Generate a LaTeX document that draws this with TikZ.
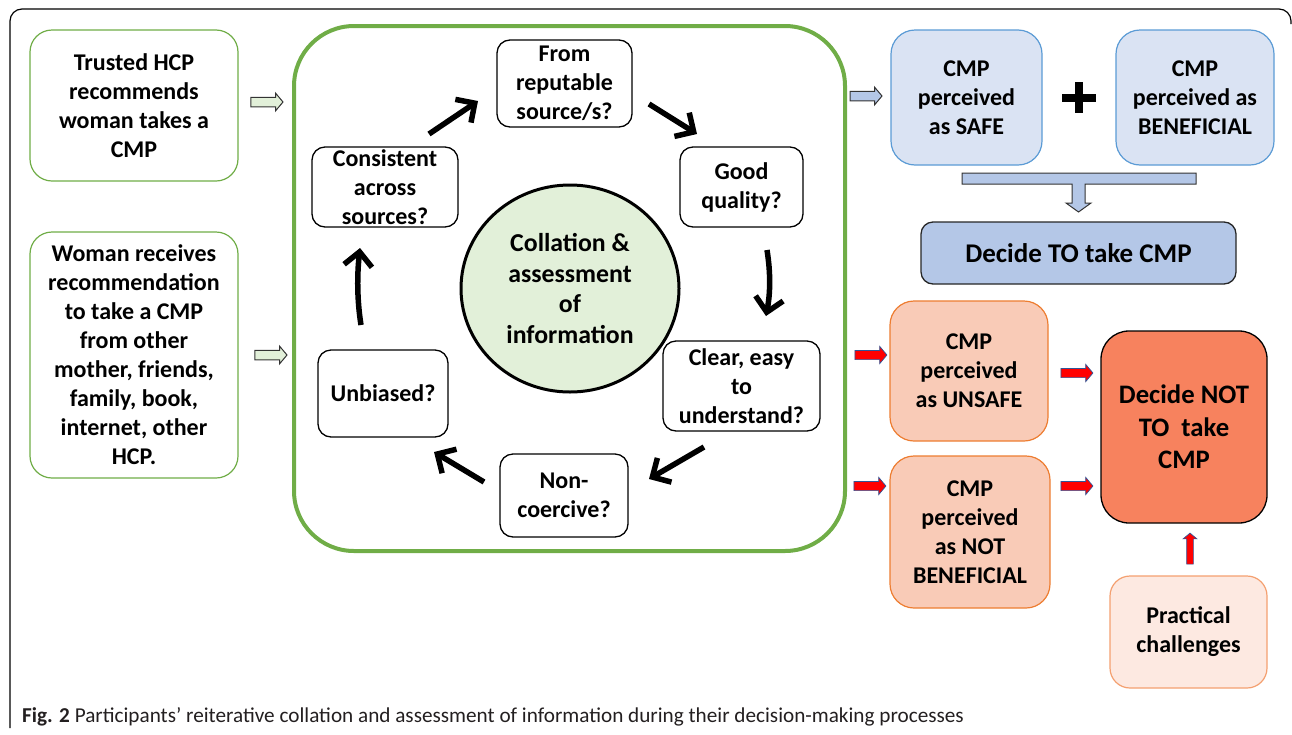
\documentclass[tikz,border=0pt]{standalone}
\usepackage{fontspec}
\setmainfont{Carlito}
\usetikzlibrary{arrows.meta,shapes.arrows,shapes.geometric}
\definecolor{cgreen}{HTML}{70AD47}
\definecolor{lgreen}{HTML}{E2F0D9}
\definecolor{lblue}{HTML}{DAE3F3}
\definecolor{bblue}{HTML}{5B9BD5}
\definecolor{mblue}{HTML}{B4C7E7}
\definecolor{lorange}{HTML}{F9CBB7}
\definecolor{borange}{HTML}{ED7D31}
\definecolor{dorange}{HTML}{F7825E}
\definecolor{porange}{HTML}{FDE9E1}
\definecolor{pborder}{HTML}{F4A070}
\definecolor{arrblue}{HTML}{2F5597}
\definecolor{capgray}{HTML}{231F20}
\newcommand\myfs[2]{\fontsize{#1}{#2}\selectfont}
\tikzset{
  base/.style={align=center, inner sep=0pt, font=\bfseries\myfs{24}{29}},
  greenbox/.style={base, rounded corners=22pt, draw=cgreen, line width=1.2pt, fill=white},
  qbox/.style={base, rounded corners=13pt, draw=black, line width=1.3pt, fill=white},
  bluebox/.style={base, rounded corners=24pt, draw=bblue, line width=1.2pt, fill=lblue},
  orbox/.style={base, rounded corners=24pt, draw=borange, line width=1.2pt, fill=lorange},
  blockarr/.style={single arrow, inner xsep=0pt, inner ysep=4.25pt, minimum height=32pt,
     single arrow head extend=4pt, single arrow tip angle=100, line width=1pt},
  grarr/.style={blockarr, draw=black!80, fill=lgreen},
  blarr/.style={blockarr, draw=black!80, fill=mblue},
  redarr/.style={blockarr, draw=arrblue, fill=red, line width=0.7pt},
  cyc/.style={line width=5.5pt, -{Straight Barb[length=14pt,width=28pt]}},
}
\begin{document}
\begin{tikzpicture}[x=1pt,y=-1pt]
\useasboundingbox (0,0) rectangle (1292,734);
% outer frame
\draw[line width=1.2pt, black, rounded corners=12pt] (10,728) -- (10,9) -- (1291,9) -- (1291,24);

% left boxes
\node[greenbox, minimum width=208pt, minimum height=151pt] (trusted) at (134,105.5)
  {Trusted HCP\\recommends\\woman takes a\\CMP};
\node[greenbox, minimum width=208pt, minimum height=246pt] (woman) at (134,355)
  {Woman receives\\recommendation\\to take a CMP\\from other\\mother, friends,\\family, book,\\internet, other\\HCP.};
\node[grarr] (g1) at (265,102) {};
\node[grarr] (g2) at (269,355) {};

% big green frame
\node[draw=cgreen, line width=4pt, rounded corners=60pt, minimum width=551pt, minimum height=525pt, inner sep=0pt] (frame) at (569.5,288.5) {};

% circle
\node[ellipse, draw=black, line width=3pt, fill=lgreen, minimum width=218pt, minimum height=207pt, align=center, inner sep=0pt, font=\bfseries\myfs{25.8}{30.5}] (centre) at (570,288.5)
  {Collation \&\\assessment\\of\\information};

% question boxes
\node[qbox, minimum width=135pt, minimum height=87pt] (from) at (564.5,83.5) {From\\reputable\\source/s?};
\node[qbox, minimum width=123pt, minimum height=80pt] (good) at (741.5,187) {Good\\quality?};
\node[qbox, minimum width=157pt, minimum height=90pt] (clear) at (741.5,386) {Clear, easy\\to\\understand?};
\node[qbox, minimum width=128pt, minimum height=83pt] (noncoer) at (564,495.5) {Non-\\coercive?};
\node[qbox, minimum width=130pt, minimum height=87pt] (unbiased) at (383,393.5) {Unbiased?};
\node[qbox, minimum width=146pt, minimum height=80pt] (consistent) at (385,187) {Consistent\\across\\sources?};

% cycle arrows
\coordinate (a1s) at (429,134); \coordinate (a1e) at (478,101);
\coordinate (a2s) at (649,104); \coordinate (a2e) at (697,134);
\coordinate (a3s) at (767,250); \coordinate (a3e) at (766,316);
\coordinate (a4s) at (704,447); \coordinate (a4e) at (649,479);
\coordinate (a5s) at (484,482); \coordinate (a5e) at (434,452);
\coordinate (a6s) at (361,325); \coordinate (a6e) at (360,248);
\draw[cyc] (a1s) -- (a1e);
\draw[cyc] (a2s) -- (a2e);
\draw[cyc] (a3s) .. controls (771,275) and (770,295) .. (a3e);
\draw[cyc] (a4s) -- (a4e);
\draw[cyc] (a5s) -- (a5e);
\draw[cyc] (a6s) .. controls (357,300) and (357,275) .. (a6e);

% right top
\node[blarr] (b1) at (864,96) {};
\node[bluebox, minimum width=151pt, minimum height=135pt] (safe) at (966.5,97.5) {CMP\\perceived\\as SAFE};
\node[bluebox, minimum width=158pt, minimum height=135pt] (benef) at (1195,97.5) {CMP\\perceived as\\BENEFICIAL};
\fill (1062,94) rectangle (1096,102);
\fill (1075,82) rectangle (1083,113);
\draw[draw=black!80, fill=mblue, line width=1pt]
  (962,173) -- (1196,173) -- (1196,184) -- (1085,184) -- (1085,203) -- (1091,203)
  -- (1078.5,212) -- (1066,203) -- (1072,203) -- (1072,184) -- (962,184) -- cycle;
\node[base, rounded corners=12pt, draw=black!85, line width=1.3pt, fill=mblue, minimum width=315pt, minimum height=62pt, font=\bfseries\myfs{27}{30}] (decideto) at (1078.5,253) {Decide TO take CMP};

% right bottom
\node[redarr] (r1) at (869,355) {};
\node[redarr] (r2) at (868,486) {};
\node[orbox, minimum width=158pt, minimum height=140pt] (unsafe) at (969,371) {CMP\\perceived\\as UNSAFE};
\node[orbox, minimum width=160pt, minimum height=152pt] (notben) at (970,532) {CMP\\perceived\\as NOT\\BENEFICIAL};
\node[redarr] (r3) at (1075,373) {};
\node[redarr] (r4) at (1075,486) {};
\node[base, rounded corners=28pt, draw=black, line width=1.3pt, fill=dorange, minimum width=166pt, minimum height=192pt, font=\bfseries\myfs{26.7}{32.5}] (decidenot) at (1184,427) {Decide NOT\\TO\ \ take\\CMP};
\node[redarr, rotate=90, minimum height=31pt, inner ysep=3pt, single arrow head extend=3.5pt] (r5) at (1190,550) {};
\node[base, rounded corners=20pt, draw=pborder, line width=1.2pt, fill=porange, minimum width=157pt, minimum height=112pt] (practical) at (1188.5,632) {Practical\\challenges};

% caption
\node[anchor=base west, inner sep=0pt, text=capgray, font=\myfs{21.2}{24}] (caption) at (22,722)
  {\textbf{Fig. 2} Participants’ reiterative collation and assessment of information during their decision-making processes};
\end{tikzpicture}
\end{document}
